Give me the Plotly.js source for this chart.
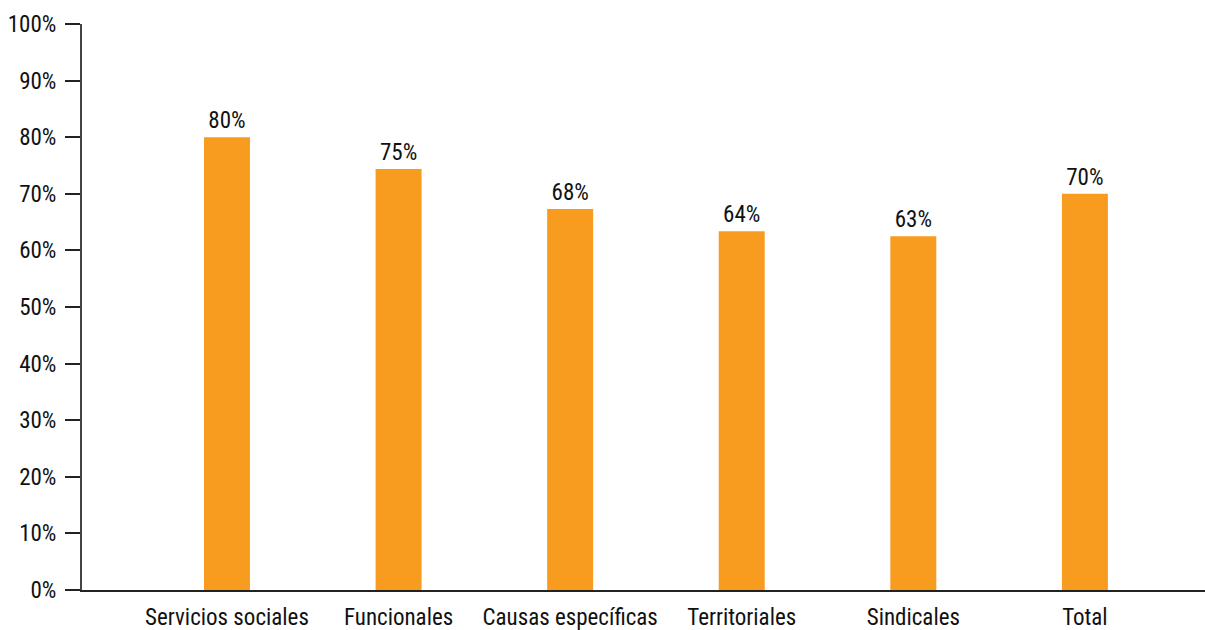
<!DOCTYPE html>
<html>
<head>
<meta charset="utf-8">
<script src="https://cdn.plot.ly/plotly-3.0.1.min.js"></script>
<style>
  html, body { margin: 0; padding: 0; background: #fff; }
  #chart { width: 1205px; height: 630px; }
</style>
</head>
<body>
<div id="chart"></div>
<script>
const categories = ["Servicios sociales", "Funcionales", "Causas específicas", "Territoriales", "Sindicales", "Total"];
const values = [0.80, 0.744, 0.673, 0.634, 0.625, 0.70];
const valueLabels = ["80%", "75%", "68%", "64%", "63%", "70%"];
const yTickValues = [0, 0.1, 0.2, 0.3, 0.4, 0.5, 0.6, 0.7, 0.8, 0.9, 1.0];
const yTickLabels = ["0%", "10%", "20%", "30%", "40%", "50%", "60%", "70%", "80%", "90%", "100%"];

const FONT = "'Roboto Condensed', 'DejaVu Sans Condensed', sans-serif";

const trace = {
  type: "bar",
  x: categories,
  y: values,
  text: valueLabels,
  textposition: "outside",
  textfont: { family: FONT, size: 23, color: "#111" },
  marker: { color: "#F89C1F", line: { width: 0 } },
  width: 0.268,
  cliponaxis: false,
  hoverinfo: "skip"
};

const layout = {
  width: 1205,
  height: 630,
  margin: { l: 82, r: 0, t: 24, b: 40, pad: 0 },
  paper_bgcolor: "#fff",
  plot_bgcolor: "#fff",
  showlegend: false,
  font: { family: FONT, size: 23, color: "#111" },
  xaxis: {
    type: "category",
    range: [-0.845, 5.7],
    showline: true,
    linecolor: "#222",
    linewidth: 1.5,
    ticks: "",
    ticklabelstandoff: 6,
    showgrid: false,
    zeroline: false,
    tickfont: { family: FONT, size: 23, color: "#111" },
    fixedrange: true
  },
  yaxis: {
    range: [0, 1],
    tickvals: yTickValues,
    ticktext: yTickLabels,
    showline: true,
    linecolor: "#444",
    linewidth: 2,
    ticks: "outside",
    ticklen: 15,
    tickwidth: 2,
    tickcolor: "#222",
    ticklabelstandoff: 4,
    showgrid: false,
    zeroline: false,
    tickfont: { family: FONT, size: 23, color: "#111" },
    fixedrange: true
  }
};

Plotly.newPlot("chart", [trace], layout, { displayModeBar: false, staticPlot: true });
</script>
</body>
</html>
